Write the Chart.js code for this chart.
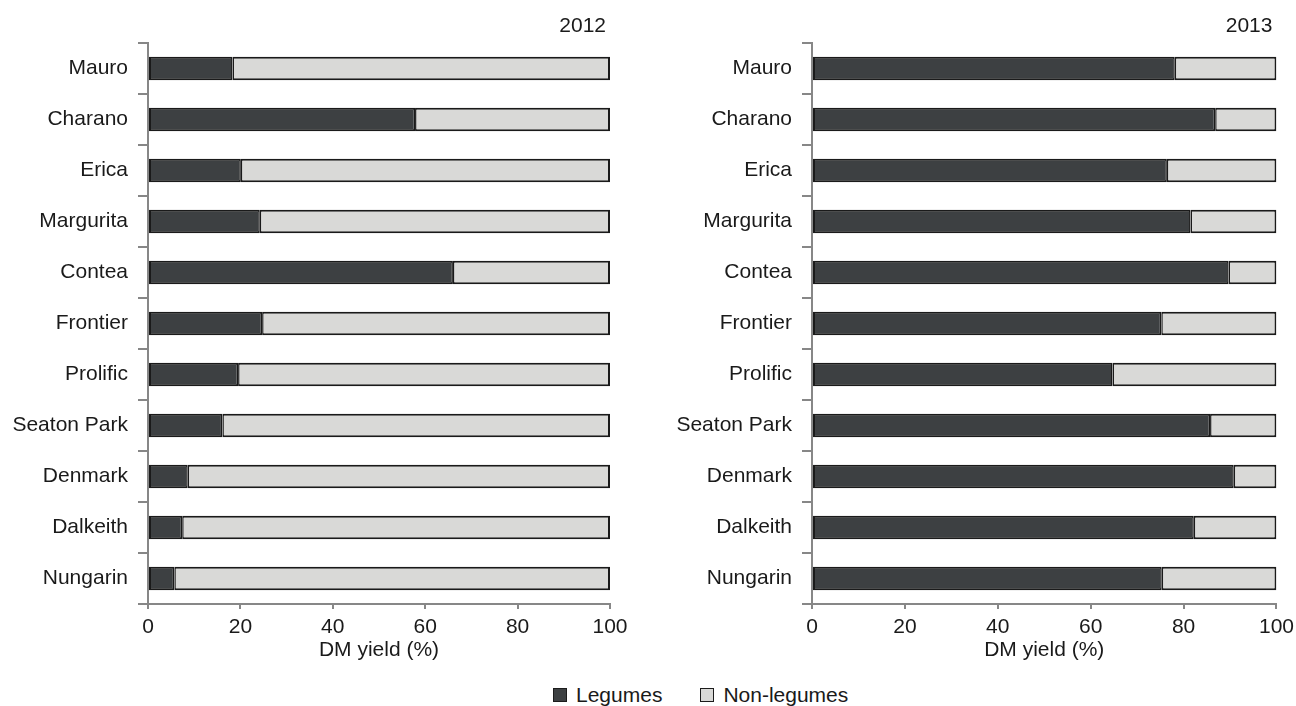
<!DOCTYPE html>
<html>
<head>
<meta charset="utf-8">
<script src="https://cdn.jsdelivr.net/npm/chart.js@4/dist/chart.umd.min.js"></script>
<style>
  html, body { margin: 0; padding: 0; background: #ffffff; }
  body { width: 1296px; height: 706px; position: relative; overflow: hidden;
         font-family: "Liberation Sans", Arial, Helvetica, sans-serif; color: #1a1a1a; }
  canvas { position: absolute; top: 0; }
  #c2012 { left: 0; }
  #c2013 { left: 648px; }
  .legend { position: absolute; top: 683px; left: 553px; display: flex; align-items: center;
            font-size: 21px; line-height: 24px; }
  .legend .sw { width: 12px; height: 12px; border: 1.5px solid #1c1c1c; display: inline-block; margin-right: 9px; }
  .legend .item { display: flex; align-items: center; }
  .legend .item + .item { margin-left: 38px; }
</style>
</head>
<body>
<canvas id="c2012" width="648" height="668"></canvas>
<canvas id="c2013" width="652" height="668"></canvas>
<div class="legend">
  <span class="item"><span class="sw" style="background:#3d4042"></span>Legumes</span>
  <span class="item"><span class="sw" style="background:#d9d9d7"></span>Non-legumes</span>
</div>
<script>
// Cultivars, top to bottom
const categories = ['Mauro', 'Charano', 'Erica', 'Margurita', 'Contea', 'Frontier',
                    'Prolific', 'Seaton Park', 'Denmark', 'Dalkeith', 'Nungarin'];

// Share of dry-matter yield (%)
const legumes2012    = [18.3, 57.8, 20.1, 24.2, 66.0, 24.7, 19.5, 16.1, 8.6, 7.4, 5.7];
const nonLegumes2012 = [81.7, 42.2, 79.9, 75.8, 34.0, 75.3, 80.5, 83.9, 91.4, 92.6, 94.3];
const legumes2013    = [78.1, 86.8, 76.4, 81.5, 89.7, 75.2, 64.7, 85.7, 90.8, 82.2, 75.3];
const nonLegumes2013 = [21.9, 13.2, 23.6, 18.5, 10.3, 24.8, 35.3, 14.3, 9.2, 17.8, 24.7];

const xTicks = [0, 20, 40, 60, 80, 100];
const xTitle = 'DM yield (%)';
const seriesNames = ['Legumes', 'Non-legumes'];

const FONT = '"Liberation Sans", Arial, Helvetica, sans-serif';
const FONT_SIZE = 21;
const TEXT = '#1a1a1a';
const AXIS = '#878787';
const DARK = '#3d4042';
const LIGHT = '#d9d9d7';
const EDGE = '#1a1a1a';

// Small plugin that writes the season label above the top-right corner of the plot
const yearLabel = {
  id: 'yearLabel',
  afterDraw(chart, args, opts) {
    const { ctx, chartArea } = chart;
    ctx.save();
    ctx.font = FONT_SIZE + 'px ' + FONT;
    ctx.fillStyle = TEXT;
    ctx.textAlign = 'right';
    ctx.textBaseline = 'middle';
    ctx.fillText(opts.text, chartArea.right - 4, 26);
    ctx.restore();
  }
};

function makeChart(id, year, legumes, nonLegumes, axisWidth, rightPad) {
  return new Chart(document.getElementById(id), {
    type: 'bar',
    data: {
      labels: categories,
      datasets: [
        {
          label: seriesNames[0],
          data: legumes,
          backgroundColor: DARK,
          borderColor: EDGE,
          borderWidth: { top: 2, bottom: 2, left: 2, right: 1.5 },
          borderSkipped: false
        },
        {
          label: seriesNames[1],
          data: nonLegumes,
          backgroundColor: LIGHT,
          borderColor: EDGE,
          borderWidth: { top: 2, bottom: 2, left: 1.5, right: 2 },
          borderSkipped: false
        }
      ]
    },
    options: {
      indexAxis: 'y',
      responsive: false,
      animation: false,
      devicePixelRatio: 1,
      layout: { padding: { top: 43, right: rightPad, left: 0, bottom: 0 } },
      datasets: { bar: { categoryPercentage: 1, barPercentage: 0.46 } },
      plugins: {
        legend: { display: false },
        tooltip: { enabled: false },
        yearLabel: { text: year }
      },
      scales: {
        x: {
          stacked: true,
          min: 0,
          max: 100,
          afterBuildTicks(scale) { scale.ticks = xTicks.map(v => ({ value: v })); },
          afterFit(scale) { scale.height = 64; },
          grid: { display: true, drawOnChartArea: false, drawTicks: true, tickLength: 5,
                  color: AXIS, lineWidth: 2 },
          border: { display: true, color: AXIS, width: 2 },
          ticks: { color: TEXT, font: { family: FONT, size: FONT_SIZE }, padding: 6, maxRotation: 0 },
          title: { display: true, text: xTitle, color: TEXT,
                   font: { family: FONT, size: FONT_SIZE }, padding: { top: 0, bottom: 5 } }
        },
        y: {
          stacked: true,
          afterFit(scale) { scale.width = axisWidth; },
          grid: { display: true, drawOnChartArea: false, drawTicks: true, tickLength: 10,
                  offset: true, color: AXIS, lineWidth: 2 },
          border: { display: true, color: AXIS, width: 2 },
          ticks: { color: TEXT, font: { family: FONT, size: FONT_SIZE }, padding: 10, autoSkip: false }
        }
      }
    },
    plugins: [yearLabel]
  });
}

makeChart('c2012', '2012', legumes2012, nonLegumes2012, 148, 38);
makeChart('c2013', '2013', legumes2013, nonLegumes2013, 164, 17);
</script>
</body>
</html>
